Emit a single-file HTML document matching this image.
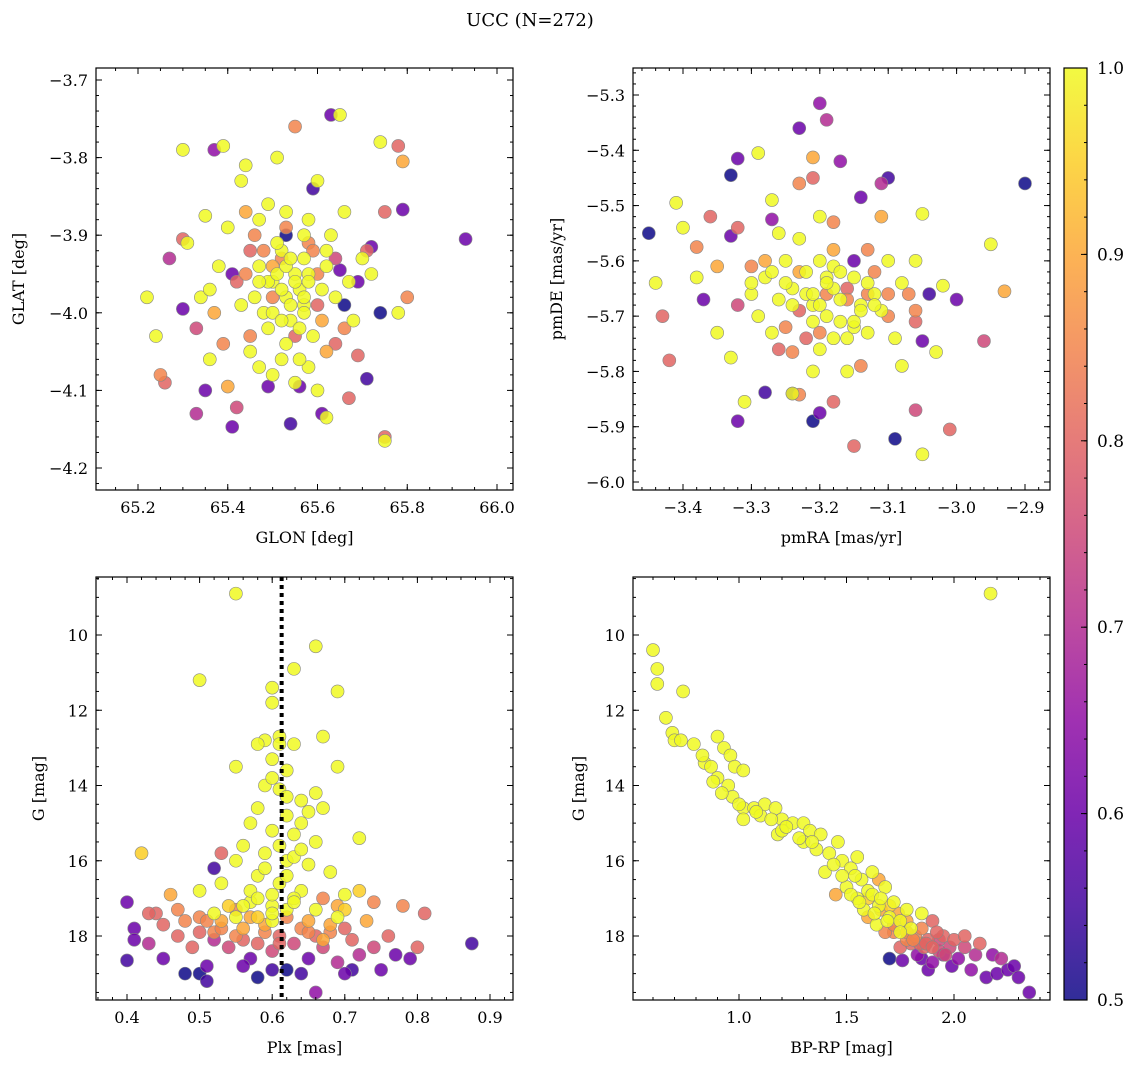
<!DOCTYPE html>
<html><head><meta charset="utf-8">
<style>
html,body{margin:0;padding:0;background:#fff;}
svg text{font-family:"DejaVu Serif","Liberation Serif",serif;fill:#000;}
</style></head>
<body>
<svg id="chart" width="1136" height="1067" xmlns="http://www.w3.org/2000/svg">
<text x="530" y="26" font-size="18" text-anchor="middle">UCC (N=272)</text>
</svg>
<script>
// ---- data ----
const p1Glon=[65.63,65.53,65.59,65.93,65.72,65.79,65.74,65.66,65.71,65.61,65.54,65.41,65.49,65.35,65.30,65.37,65.27,65.56,65.65,65.42,65.33,65.55,65.78,65.79,65.8,65.75,65.67,65.75,65.25,65.26,65.3,65.33,65.4,65.69,65.44,65.46,65.42,65.6,65.52,65.58,65.64,65.5,65.45,65.37,65.65,65.74,65.3,65.39,65.44,65.22,65.24,65.31,65.35,65.36,65.34,65.38,65.4,65.43,65.47,65.49,65.51,65.53,65.55,65.57,65.59,65.61,65.63,65.6,65.66,65.7,65.72,65.78,65.68,65.62,65.75,65.5,65.52,65.45,65.48,65.54,65.56,65.53,65.5,65.58,65.55,65.57,65.46,65.6,65.47,65.64,65.62,65.67,65.52,65.58,
 65.49,65.51,65.53,65.55,65.57,65.5,65.52,65.54,65.56,65.58,65.48,65.51,65.53,65.55,65.57,65.59,65.52,65.54,65.56,65.5,65.47,65.6,65.62,65.49,65.53,65.57,65.61,65.45,65.43,65.64,65.66,65.41,65.39,65.69,65.71,65.47,65.58,65.62,65.44,65.36];
const p1Glat=[-3.745,-3.9,-3.84,-3.905,-3.915,-3.867,-4.0,-3.99,-4.085,-4.13,-4.143,-4.147,-4.095,-4.1,-3.995,-3.79,-3.93,-4.095,-3.945,-4.122,-4.13,-3.76,-3.785,-3.805,-3.98,-3.87,-4.11,-4.16,-4.08,-4.09,-3.905,-4.02,-4.095,-4.055,-3.87,-3.9,-3.96,-3.95,-3.93,-3.91,-4.04,-3.98,-4.03,-4.0,-3.745,-3.78,-3.79,-3.785,-3.81,-3.98,-4.03,-3.91,-3.875,-4.06,-3.98,-3.94,-3.89,-3.83,-3.94,-3.86,-3.8,-3.87,-3.95,-3.99,-4.03,-3.97,-3.9,-3.83,-3.87,-3.93,-3.95,-4.0,-4.01,-4.135,-4.165,-4.08,-4.06,-4.05,-4.0,-4.01,-3.97,-3.98,-3.96,-4.07,-4.09,-3.93,-3.98,-4.1,-4.07,-3.98,-3.92,-3.96,-3.92,-3.88,
 -3.96,-3.95,-3.94,-3.96,-3.98,-4.0,-4.01,-3.99,-4.02,-3.95,-3.92,-3.91,-4.04,-4.03,-4.0,-3.92,-3.97,-3.93,-4.06,-3.94,-3.96,-3.99,-3.94,-4.02,-3.89,-3.9,-4.01,-3.92,-3.99,-3.93,-4.02,-3.95,-4.04,-3.96,-3.92,-3.88,-3.96,-4.05,-3.95,-3.97];
const p1Prob=[.6,.5,.55,.6,.6,.6,.5,.5,.55,.6,.55,.6,.6,.6,.6,.65,.7,.6,.6,.75,.7,.85,.8,.9,.85,.8,.8,.8,.85,.8,.8,.75,.9,.8,.9,.85,.8,.85,.85,.85,.8,.85,.85,.9,1,1,1,1,1,1,1,1,1,1,1,1,1,1,1,1,1,1,1,1,1,1,1,1,1,1,1,1,1,1,1,1,1,1,1,1,1,1,1,1,1,1,1,1,1,1,1,1,1,1,
 1,1,1,1,1,1,1,1,1,1,.85,1,1,.8,1,.85,1,1,1,.9,1,.8,1,1,.85,1,.9,.8,1,.75,.85,.6,.85,.6,.8,1,1,.9,.85,1];

const p2PmRA=[-3.2,-3.19,-3.23,-3.32,-3.33,-3.45,-2.9,-3.17,-3.14,-3.1,-3.11,-3.21,-3.32,-3.28,-3.24,-3.2,-3.09,-3.05,-3.0,-3.37,-3.33,-3.04,-3.27,-3.15,-3.43,-3.42,-3.38,-3.36,-3.32,-3.3,-3.24,-3.23,-3.18,-3.15,-3.01,-2.96,-2.93,-3.06,-3.06,-3.07,-3.21,-3.23,-3.18,-3.13,-3.16,-3.19,-3.1,-3.12,-3.28,-3.35,-3.25,-3.2,-3.14,-3.11,-3.21,-3.29,-3.05,-2.95,-3.41,-3.4,-3.44,-3.38,-3.35,-3.33,-3.31,-3.27,-3.26,-3.3,-3.28,-3.25,-3.23,-3.2,-3.22,-3.19,-3.18,-3.17,-3.15,-3.14,-3.12,-3.1,-3.09,-3.08,-3.05,-3.03,-3.06,-3.02,-3.27,-3.21,-3.24,-3.16,-3.13,-3.26,-3.2,-3.17,-3.11,-3.24,-3.29,-3.21,-3.18,
 -3.22,-3.2,-3.18,-3.16,-3.14,-3.19,-3.21,-3.23,-3.17,-3.15,-3.13,-3.25,-3.27,-3.22,-3.2,-3.18,-3.16,-3.12,-3.1,-3.24,-3.26,-3.3,-3.32,-3.08,-3.06,-3.19,-3.21,-3.15,-3.13,-3.23];
const p2PmDE=[-5.315,-5.345,-5.36,-5.415,-5.445,-5.55,-5.46,-5.42,-5.485,-5.45,-5.46,-5.89,-5.89,-5.838,-5.84,-5.875,-5.922,-5.745,-5.67,-5.67,-5.555,-5.66,-5.525,-5.6,-5.7,-5.78,-5.575,-5.52,-5.54,-5.61,-5.765,-5.842,-5.855,-5.935,-5.905,-5.745,-5.655,-5.87,-5.71,-5.66,-5.45,-5.46,-5.53,-5.58,-5.65,-5.66,-5.7,-5.62,-5.6,-5.61,-5.72,-5.73,-5.79,-5.52,-5.413,-5.405,-5.515,-5.57,-5.495,-5.54,-5.64,-5.63,-5.73,-5.775,-5.855,-5.73,-5.67,-5.66,-5.63,-5.6,-5.56,-5.52,-5.62,-5.7,-5.74,-5.67,-5.63,-5.68,-5.66,-5.6,-5.74,-5.79,-5.95,-5.765,-5.6,-5.645,-5.49,-5.8,-5.84,-5.8,-5.73,-5.55,-5.6,-5.71,-5.69,-5.65,-5.7,-5.68,-5.61,
 -5.66,-5.68,-5.65,-5.67,-5.69,-5.63,-5.71,-5.69,-5.62,-5.72,-5.66,-5.64,-5.62,-5.74,-5.76,-5.58,-5.74,-5.68,-5.66,-5.68,-5.76,-5.64,-5.68,-5.64,-5.69,-5.64,-5.66,-5.71,-5.64,-5.62];
const p2Prob=[.65,.7,.6,.6,.5,.5,.5,.65,.6,.55,.7,.5,.6,.55,.55,.6,.5,.6,.6,.6,.6,.55,.65,.6,.8,.8,.85,.8,.8,.85,.85,.85,.8,.8,.8,.75,.9,.75,.8,.85,.8,.85,.85,.85,.8,.85,.85,.85,.9,.9,.85,.85,.85,.9,.9,1,1,1,1,1,1,1,1,1,1,1,1,1,1,1,1,1,1,1,1,1,1,1,1,1,1,1,1,1,1,1,1,1,1,1,1,1,1,1,1,1,1,1,1,
 1,1,1,.85,1,1,1,.8,1,1,.85,1,1,.8,1,.9,1,1,.85,1,.8,1,.75,1,.85,1,1,1,1,.9];

const p3Plx=[0.55,0.5,0.66,0.63,0.69,0.6,0.6,0.67,0.55,0.69,0.59,0.61,0.63,0.6,0.62,0.59,0.61,0.64,0.58,0.62,0.65,0.67,0.57,0.6,0.63,0.66,0.56,0.59,0.62,0.65,0.68,0.55,0.58,0.61,0.64,0.7,0.72,0.53,0.57,0.6,0.63,0.66,0.69,0.52,0.42,0.5,0.46,0.4,0.41,0.41,0.4,0.43,0.44,0.45,0.47,0.45,0.48,0.5,0.5,0.51,0.51,0.52,0.53,0.54,0.55,0.56,0.57,0.58,0.59,0.6,0.61,0.62,0.63,0.64,0.65,0.66,0.67,0.68,0.69,0.7,0.71,0.72,0.73,0.74,0.75,0.76,0.77,0.78,0.79,0.8,0.81,0.875,0.52,0.53,0.48,0.56,0.58,0.6,0.64,0.71,0.67,0.55,0.47,0.43,0.62,0.74,0.7,0.66,0.5,0.57,0.59,0.65,
 0.58,0.6,0.62,0.64,0.61,0.63,0.59,0.57,0.6,0.62,0.64,0.66,0.56,0.58,0.6,0.62,0.54,0.52,0.56,0.68,0.7,0.65,0.61,0.53,0.55,0.49,0.51,0.67,0.69,0.72,0.6,0.58,0.63,0.61];
const p3G=[8.9,11.2,10.3,10.9,11.5,11.4,11.8,12.7,13.5,13.5,12.8,12.7,12.9,13.3,13.6,14.0,14.1,14.4,14.6,14.8,14.7,14.6,15.0,15.2,15.3,15.5,15.6,15.8,16.0,16.1,16.3,16.0,16.4,16.6,16.8,16.9,15.4,16.6,17.1,17.2,17.0,17.3,17.5,17.4,15.8,16.8,16.9,17.1,17.8,18.1,18.65,18.2,17.4,17.7,18.0,18.6,17.6,17.9,19.0,19.2,18.8,18.1,17.6,18.3,18.0,17.8,18.6,18.2,17.9,18.4,18.0,18.9,18.2,17.8,18.6,19.5,18.3,17.9,18.7,19.0,18.1,18.5,17.6,18.3,18.9,18.0,18.5,17.2,18.6,18.3,17.4,18.2,16.2,15.8,19.0,18.8,19.1,18.9,19.0,18.9,17.0,17.3,17.3,17.4,17.5,17.1,17.8,18.0,17.5,17.5,17.7,17.6,
 12.9,13.8,14.3,15.0,15.6,15.9,16.2,16.8,16.9,16.4,15.7,14.2,17.2,17.5,17.6,17.3,17.2,17.9,18.1,17.7,17.3,17.9,18.2,17.8,17.5,18.3,17.6,18.1,17.2,16.8,17.4,17.0,17.1,12.9];
const p3Prob=[1,1,1,1,1,1,1,1,1,1,1,1,1,1,1,1,1,1,1,1,1,1,1,1,1,1,1,1,1,1,1,1,1,1,1,1,1,1,1,1,1,1,1,1,.95,1,.9,.6,.6,.6,.55,.7,.8,.8,.8,.6,.85,.8,.5,.55,.6,.7,.9,.75,.85,.9,.6,.8,.85,.75,.8,.5,.75,.85,.6,.65,.75,.85,.7,.6,.8,.7,.9,.75,.6,.8,.6,.85,.6,.8,.8,.55,.55,.8,.5,.6,.5,.55,.55,.55,.85,.85,.85,.8,.85,.85,.8,.8,.85,.9,.9,.9,
 1,1,1,1,1,1,1,1,1,1,1,1,1,.95,1,1,.95,.85,.8,.9,.95,.85,.8,.85,1,.8,.85,.9,.9,.95,1,1,1,1];
const p3PlxLine=0.613;

const p4BpRp=[2.17,0.6,0.62,0.62,0.66,0.74,0.69,0.7,0.73,0.79,0.84,0.87,0.9,0.93,0.96,0.98,1.02,0.9,0.95,0.97,1.02,1.07,1.1,1.12,1.17,1.2,1.18,1.25,1.3,1.33,1.38,1.42,1.46,1.48,1.52,1.55,1.5,1.55,1.6,1.62,1.65,1.68,1.7,1.72,1.75,1.78,1.8,1.85,1.58,1.64,1.3,1.2,1.02,0.83,1.4,1.72,1.78,1.82,1.86,1.88,1.9,1.93,1.95,1.98,2.0,2.02,2.05,2.08,2.1,2.12,2.15,2.2,2.22,2.25,2.28,2.3,2.35,1.88,1.9,1.85,1.7,1.76,1.95,1.92,1.8,1.75,1.85,2.05,1.68,1.99,1.83,2.18,1.6,1.45,1.65,
 1.52,1.56,1.6,1.63,1.66,1.69,1.72,1.75,1.78,1.81,1.84,1.87,1.9,1.93,1.96,1.62,1.66,1.7,1.74,1.78,1.57,1.54,1.48,1.44,1.36,1.28,1.15,1.08,1.0,0.92,0.88,1.22,1.34];
const p4G=[8.9,10.4,10.9,11.3,12.2,11.5,12.6,12.8,12.8,12.9,13.4,13.5,12.7,13.0,13.2,13.5,13.6,13.8,14.0,14.3,14.6,14.6,14.8,14.5,14.6,14.9,15.3,15.0,15.0,15.2,15.3,15.8,15.5,16.0,16.2,15.9,16.7,17.0,16.8,16.3,17.2,16.7,17.5,17.1,17.6,17.3,17.8,17.4,17.3,17.7,15.5,15.2,14.9,13.2,16.3,17.9,18.1,18.0,18.3,18.1,17.6,18.4,18.0,18.3,18.1,18.6,18.3,18.9,18.5,18.2,19.1,19.0,18.6,18.9,18.8,19.1,19.5,18.9,18.7,18.6,18.6,18.65,18.5,17.9,18.2,18.3,17.8,18.0,17.9,18.8,18.5,18.5,17.5,16.9,16.5,
 16.9,17.1,17.0,17.4,17.3,17.6,17.7,17.9,17.9,18.1,18.2,18.2,18.3,18.1,18.5,16.9,17.0,17.2,17.4,17.6,16.5,16.4,16.4,16.1,15.7,15.4,14.9,14.7,14.5,14.2,13.9,15.1,15.5];
const p4Prob=[1,1,1,1,1,1,1,1,1,1,1,1,1,1,1,1,1,1,1,1,1,1,1,1,1,1,1,1,1,1,1,1,1,1,1,1,1,1,1,1,1,1,1,1,1,1,1,1,1,1,1,1,1,1,1,.85,.85,.85,.8,.8,.8,.75,.8,.75,.8,.65,.75,.65,.7,.8,.6,.6,.7,.6,.6,.6,.6,.6,.65,.6,.5,.6,.65,.8,.8,.8,.85,.8,.85,.6,.65,.65,.9,.9,.9,
 1,1,.95,1,.9,1,.85,1,.85,.85,.8,.8,.8,.75,.75,1,1,.95,.9,.9,1,1,1,1,1,1,1,1,1,1,1,1,1];

const cbTicks=[0.5,0.6,0.7,0.8,0.9,1.0];

// ---- helpers ----
const NS="http://www.w3.org/2000/svg";
const svg=document.getElementById('chart');
function mk(tag,attrs,parent){const e=document.createElementNS(NS,tag);for(const k in attrs)e.setAttribute(k,attrs[k]);(parent||svg).appendChild(e);return e;}
const plasma=[[13,8,135],[65,4,157],[106,0,168],[143,13,164],[177,42,144],[204,71,120],[225,100,98],[242,132,75],[252,166,54],[252,206,37],[240,249,33]];
function cmap(p){let t=(p-0.5)/0.5;t=Math.max(0,Math.min(1,t));const f=t*10;const i=Math.min(9,Math.floor(f));const r=f-i;const a=plasma[i],b=plasma[i+1];return 'rgb('+[0,1,2].map(k=>Math.round(a[k]+(b[k]-a[k])*r)).join(',')+')';}
function lin(d0,d1,r0,r1){return v=>r0+(v-d0)*(r1-r0)/(d1-d0);}
function range(a,b,s){const o=[];for(let v=a;v<=b+s*1e-6;v+=s)o.push(+v.toFixed(6));return o;}

function panel(cfg){
  const g=mk('g',{});
  
  
  const {x0,x1,y0,y1}=cfg.box;
  const X=cfg.X,Y=cfg.Y;
  const cp='clip-'+cfg.name;
  const defs=mk('defs',{},g);const c=mk('clipPath',{id:cp},defs);mk('rect',{x:x0,y:y0,width:x1-x0,height:y1-y0},c);
  const pts=mk('g',{'clip-path':'url(#'+cp+')'},g);
  
  
  const idx=cfg.xs.map((_,i)=>i).sort((a,b)=>cfg.ps[a]-cfg.ps[b]);
  idx.forEach(i=>{
    const pt=mk('circle',{cx:X(cfg.xs[i]),cy:Y(cfg.ys[i]),r:6.5,fill:cmap(cfg.ps[i]),'fill-opacity':0.85,stroke:'#888','stroke-width':0.6},pts);
    
    
  });
  if(cfg.after)cfg.after(pts);
  const tg=mk('g',{stroke:'#000','stroke-width':1},g);
  cfg.xMinor.forEach(v=>{const x=X(v);if(x<x0||x>x1)return;mk('line',{x1:x,x2:x,y1:y1,y2:y1-3},tg);mk('line',{x1:x,x2:x,y1:y0,y2:y0+3},tg);});
  cfg.yMinor.forEach(v=>{const y=Y(v);if(y<y0||y>y1)return;mk('line',{x1:x0,x2:x0+3,y1:y,y2:y},tg);mk('line',{x1:x1,x2:x1-3,y1:y,y2:y},tg);});
  cfg.xMajor.forEach(v=>{const x=X(v);mk('line',{x1:x,x2:x,y1:y1,y2:y1-6},tg);mk('line',{x1:x,x2:x,y1:y0,y2:y0+6},tg);
    const t=mk('text',{x:x,y:y1+23,'font-size':16,'text-anchor':'middle'},g);t.textContent=cfg.xFmt(v);
    });
  cfg.yMajor.forEach(v=>{const y=Y(v);mk('line',{x1:x0,x2:x0+6,y1:y,y2:y},tg);mk('line',{x1:x1,x2:x1-6,y1:y,y2:y},tg);
    const t=mk('text',{x:x0-8,y:y+6,'font-size':16,'text-anchor':'end'},g);t.textContent=cfg.yFmt(v);
    });
  mk('rect',{x:x0,y:y0,width:x1-x0,height:y1-y0,fill:'none',stroke:'#000','stroke-width':1.2},g);
  const xl=mk('text',{x:(x0+x1)/2,y:y1+53,'font-size':16,'text-anchor':'middle'},g);xl.textContent=cfg.xLabel;
  
  const yx=cfg.yLabelX,yy=(y0+y1)/2;
  const yl=mk('text',{x:yx,y:yy,'font-size':16,'text-anchor':'middle',transform:'rotate(-90 '+yx+' '+yy+')'},g);yl.textContent=cfg.yLabel;
  
}
const neg=v=>(v<0?'\u2212':'')+Math.abs(v).toFixed(1);

panel({name:'glon-glat-panel',box:{x0:96,x1:513,y0:68,y1:490},
 X:lin(65.2,66.0,138,497),Y:lin(-3.7,-4.2,80,468),
 xs:p1Glon,ys:p1Glat,ps:p1Prob,
 xMajor:range(65.2,66.0,0.2),xMinor:range(65.1,66.05,0.05),
 yMajor:range(-4.2,-3.7,0.1),yMinor:range(-4.24,-3.68,0.02),
 xFmt:v=>v.toFixed(1),yFmt:neg,xLabel:'GLON [deg]',yLabel:'GLAT [deg]',yLabelX:24});
panel({name:'pm-panel',box:{x0:633,x1:1050,y0:68,y1:490},
 X:lin(-3.4,-2.9,683,1025),Y:lin(-5.3,-6.0,95,482),
 xs:p2PmRA,ys:p2PmDE,ps:p2Prob,
 xMajor:range(-3.4,-2.9,0.1),xMinor:range(-3.5,-2.84,0.02),
 yMajor:range(-6.0,-5.3,0.1),yMinor:range(-6.02,-5.24,0.02),
 xFmt:neg,yFmt:neg,xLabel:'pmRA [mas/yr]',yLabel:'pmDE [mas/yr]',yLabelX:562});
panel({name:'plx-g-panel',box:{x0:96,x1:513,y0:577,y1:1000},
 X:lin(0.4,0.9,127,490),Y:lin(10,18,635,936),
 xs:p3Plx,ys:p3G,ps:p3Prob,
 xMajor:range(0.4,0.9,0.1),xMinor:range(0.36,0.92,0.02),
 yMajor:range(10,18,2),yMinor:range(8.5,19.5,0.5),
 xFmt:v=>v.toFixed(1),yFmt:v=>String(v),xLabel:'Plx [mas]',yLabel:'G [mag]',yLabelX:44,
 after:(pts)=>{const X=lin(0.4,0.9,127,490);const l=mk('line',{x1:X(p3PlxLine),x2:X(p3PlxLine),y1:577,y2:1000,stroke:'#000','stroke-width':4,'stroke-dasharray':'4,4'},pts);
   }});
panel({name:'cmd-panel',box:{x0:633,x1:1050,y0:577,y1:1000},
 X:lin(1.0,2.0,739,954),Y:lin(10,18,635,936),
 xs:p4BpRp,ys:p4G,ps:p4Prob,
 xMajor:[1.0,1.5,2.0],xMinor:range(0.5,2.4,0.1),
 yMajor:range(10,18,2),yMinor:range(8.5,19.5,0.5),
 xFmt:v=>v.toFixed(1),yFmt:v=>String(v),xLabel:'BP-RP [mag]',yLabel:'G [mag]',yLabelX:584});

(function(){
 const g=mk('g',{});
 const defs=mk('defs',{},g);const lg=mk('linearGradient',{id:'cbg',x1:0,y1:1,x2:0,y2:0},defs);
 for(let i=0;i<=10;i++){mk('stop',{offset:i/10,'stop-color':cmap(0.5+i*0.05),'stop-opacity':0.85},lg);}
 const x0=1064,x1=1087,y0=68,y1=1000;const Y=lin(0.5,1.0,y1,y0);
 mk('rect',{x:x0,y:y0,width:x1-x0,height:y1-y0,fill:'url(#cbg)',stroke:'#000','stroke-width':1.2},g);
 range(0.5,1.0,0.02).forEach(v=>mk('line',{x1:x1,x2:x1-3,y1:Y(v),y2:Y(v),stroke:'#000'},g));
 cbTicks.forEach(v=>{const y=Y(v);mk('line',{x1:x1,x2:x1-6,y1:y,y2:y,stroke:'#000'},g);
   const t=mk('text',{x:x1+10,y:y+6,'font-size':17},g);t.textContent=v.toFixed(1);
   });
})();
</script>
</body></html>
